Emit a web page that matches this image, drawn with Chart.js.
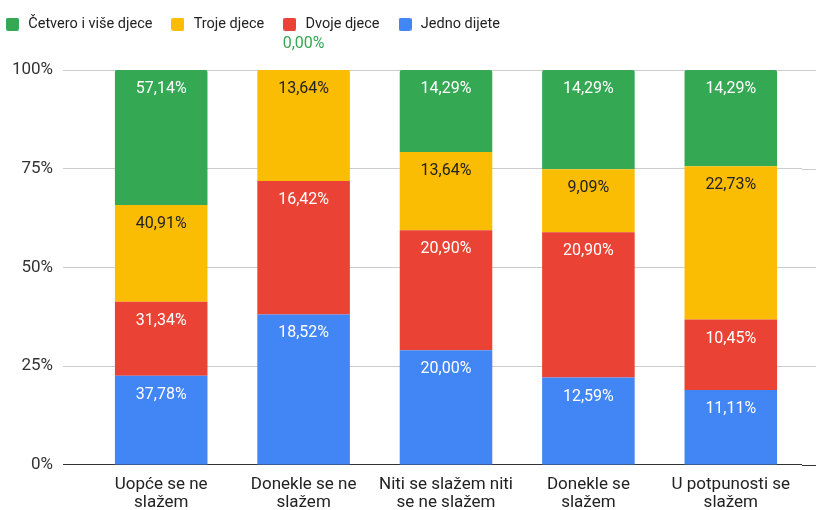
<!DOCTYPE html>
<html lang="hr">
<head>
<meta charset="UTF-8">
<title>Broj djece po stavu</title>
<script src="https://cdn.jsdelivr.net/npm/chart.js"></script>
<style>
  body { margin: 0; background: #fff; }
  #wrap { width: 817px; height: 510px; }
</style>
</head>
<body>
<div id="wrap"><canvas id="chart"></canvas></div>
<script>
  const categories = [
    ['Uopće se ne', 'slažem'],
    ['Donekle se ne', 'slažem'],
    ['Niti se slažem niti', 'se ne slažem'],
    ['Donekle se', 'slažem'],
    ['U potpunosti se', 'slažem']
  ];
  const seriesNames = ['Jedno dijete', 'Dvoje djece', 'Troje djece', 'Četvero i više djece'];
  const jednoDijete = [37.78, 18.52, 20.00, 12.59, 11.11];
  const dvojeDjece = [31.34, 16.42, 20.90, 20.90, 10.45];
  const trojeDjece = [40.91, 13.64, 13.64, 9.09, 22.73];
  const cetveroDjece = [57.14, 0.00, 14.29, 14.29, 14.29];
  const yTicks = [0, 25, 50, 75, 100];

  const colors = ['#4285F4', '#EA4335', '#FBBC04', '#34A853'];
  const raw = [jednoDijete, dvojeDjece, trojeDjece, cetveroDjece];

  // stacked to 100% per category
  const totals = categories.map((c, i) => raw.reduce((s, arr) => s + arr[i], 0));
  const shares = raw.map(arr => arr.map((v, i) => v / totals[i] * 100));

  const fmt = v => v.toFixed(2).replace('.', ',') + '%';

  // small rounded squares for the legend
  const swatch = color => {
    const c = document.createElement('canvas');
    c.width = 13; c.height = 13;
    const g = c.getContext('2d');
    g.fillStyle = color;
    g.beginPath();
    g.roundRect(0, 0, 13, 13, 2);
    g.fill();
    return c;
  };
  const swatches = colors.map(swatch);

  const barLabels = {
    id: 'barLabels',
    afterDatasetsDraw(chart) {
      const ctx = chart.ctx;
      ctx.save();
      ctx.font = '16px Roboto';
      ctx.textAlign = 'center';
      ctx.textBaseline = 'middle';
      chart.data.datasets.forEach((ds, di) => {
        chart.getDatasetMeta(di).data.forEach((el, i) => {
          const v = raw[di][i];
          if (v === 0) {
            ctx.fillStyle = colors[di];
            ctx.fillText(fmt(v), el.x, el.y - 26);
          } else {
            ctx.fillStyle = di === 2 ? '#222' : '#fff';
            ctx.fillText(fmt(v), el.x, el.y + 19);
          }
        });
      });
      ctx.restore();
    }
  };

  // grid lines in the sheet run past the last bar to the edge
  const gridExtend = {
    id: 'gridExtend',
    beforeDatasetsDraw(chart) {
      const ctx = chart.ctx, y = chart.scales.y, a = chart.chartArea;
      ctx.save();
      ctx.lineWidth = 1;
      yTicks.forEach(t => {
        const py = Math.round(y.getPixelForValue(t)) + 0.5;
        ctx.strokeStyle = t === 0 ? '#333' : '#ccc';
        ctx.beginPath();
        ctx.moveTo(a.right, py);
        ctx.lineTo(816, py);
        ctx.stroke();
      });
      ctx.restore();
    }
  };

  const legendSpace = {
    id: 'legendSpace',
    beforeInit(chart) {
      const fit = chart.legend.fit;
      chart.legend.fit = function () {
        fit.bind(chart.legend)();
        this.height = 70;
      };
    },
    afterLayout(chart) {
      chart.legend.left -= 13;
      chart.legend.right -= 13;
    }
  };

  const topOnly = (ctx) => {
    const i = ctx.dataIndex, di = ctx.datasetIndex;
    for (let k = di + 1; k < raw.length; k++) if (raw[k][i] > 0) return 0;
    return { topLeft: 2, topRight: 2, bottomLeft: 0, bottomRight: 0 };
  };

  new Chart(document.getElementById('chart'), {
    type: 'bar',
    data: {
      labels: categories,
      datasets: seriesNames.map((name, di) => ({
        label: name,
        data: shares[di],
        backgroundColor: colors[di],
        pointStyle: swatches[di],
        borderWidth: 0,
        borderRadius: topOnly,
        borderSkipped: false,
        categoryPercentage: 1,
        barPercentage: 0.65
      }))
    },
    plugins: [barLabels, gridExtend, legendSpace],
    options: {
      responsive: true,
      maintainAspectRatio: false,
      animation: false,
      layout: { padding: { top: 0, right: 15, left: 0, bottom: -13 } },
      scales: {
        x: {
          stacked: true,
          grid: { display: false, drawTicks: false },
          border: { display: false },
          ticks: {
            color: '#222',
            font: { family: 'Roboto', size: 17, lineHeight: 1.06 },
            padding: 11,
            maxRotation: 0,
            autoSkip: false
          }
        },
        y: {
          stacked: true,
          min: 0,
          max: 100,
          afterFit(scale) { scale.width = 90; },
          afterBuildTicks(scale) { scale.ticks = yTicks.map(v => ({ value: v })); },
          border: { display: false },
          grid: {
            color: c => c.tick && c.tick.value === 0 ? '#333' : '#ccc',
            tickLength: 27,
            drawTicks: true
          },
          ticks: {
            color: '#333',
            font: { family: 'Roboto', size: 17 },
            padding: 10,
            callback: v => v + '%'
          }
        }
      },
      plugins: {
        legend: {
          position: 'top',
          align: 'start',
          reverse: true,
          labels: {
            color: '#222',
            font: { family: 'Roboto', size: 14.5 },
            usePointStyle: true,
            pointStyleWidth: 17,
            boxHeight: 13,
            padding: 17
          }
        },
        tooltip: { enabled: false }
      }
    }
  });
</script>
</body>
</html>
